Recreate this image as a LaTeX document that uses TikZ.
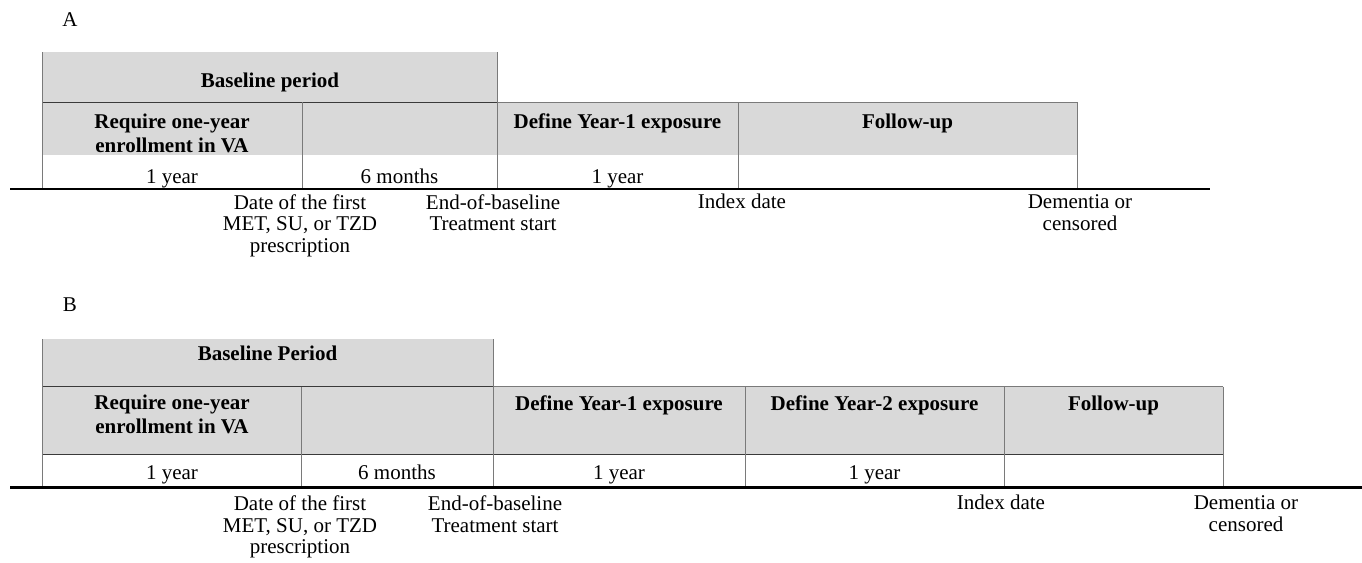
\documentclass[tikz,border=0pt]{standalone}
\usepackage{fontspec}
\setmainfont{Liberation Serif}
\definecolor{cellgray}{HTML}{D9D9D9}
\definecolor{bordergray}{HTML}{7A7A7A}
\definecolor{rowline}{HTML}{3A3A3A}
\tikzset{
  lab/.style={font=\fontsize{21}{21.5}\selectfont, inner sep=0pt, anchor=base, align=center},
  labm/.style={font=\fontsize{21}{21.5}\selectfont, inner sep=0pt, anchor=north, align=center},
  hdr/.style={font=\fontsize{21}{24}\selectfont\bfseries, inner sep=0pt, anchor=base, align=center},
  hdrm/.style={font=\fontsize{21}{24}\selectfont\bfseries, inner sep=0pt, anchor=north, align=center},
  cellfill/.style={fill=cellgray},
  vline/.style={draw=bordergray, line width=1pt},
  hline/.style={draw=rowline, line width=1pt},
  axisline/.style={draw=black, line width=2.4pt}
}
\begin{document}
\begin{tikzpicture}[x=1pt,y=-1pt]
\useasboundingbox (0,0) rectangle (1362,562);

% ---------------- Panel A ----------------
\node[lab] (lblA) at (70,26) {A};
\fill[cellfill] (42,52) rectangle (497,155);
\fill[cellfill] (497,102) rectangle (1077,155);
\draw[hline] (42,102) -- (497,102);
\draw[vline] (497,102) -- (1077,102);
\draw[vline] (42,52) -- (42,189);
\draw[vline] (302,102) -- (302,189);
\draw[vline] (497,52) -- (497,189);
\draw[vline] (738,102) -- (738,189);
\draw[vline] (1077,102) -- (1077,189);
\coordinate (axAs) at (10,189);
\coordinate (axAe) at (1210,189);
\draw[axisline] (axAs) -- (axAe);

\node[hdr] (baseA) at (270,87) {Baseline period};
\node[hdrm] (reqA) at (172,114) {Require one-year\\enrollment in VA};
\node[hdr] (y1A) at (617.5,128) {Define Year-1 exposure};
\node[hdr] (fuA) at (907.5,128) {Follow-up};
\node[lab] (d1A) at (172,183) {1 year};
\node[lab] (d2A) at (399.5,183) {6 months};
\node[lab] (d3A) at (617.5,183) {1 year};
\node[labm] (firstA) at (300,194.4) {Date of the first\\MET, SU, or TZD\\prescription};
\node[labm] (endA) at (493,194.4) {End-of-baseline\\Treatment start};
\node[lab] (idxA) at (742,208.7) {Index date};
\node[labm] (demA) at (1080,194.8) {Dementia or\\censored};

% ---------------- Panel B ----------------
\node[lab] (lblB) at (70,311) {B};
\fill[cellfill] (42,339) rectangle (493,454);
\fill[cellfill] (493,386.5) rectangle (1223,454);
\draw[hline] (42,386.5) -- (493,386.5);
\draw[vline] (493,386.5) -- (1223,386.5);
\draw[hline] (42,454) -- (1223,454);
\draw[vline] (42,339) -- (42,487);
\draw[vline] (301.7,386.5) -- (301.7,487);
\draw[vline] (493,339) -- (493,487);
\draw[vline] (745,386.5) -- (745,487);
\draw[vline] (1004,386.5) -- (1004,487);
\draw[vline] (1223,386.5) -- (1223,487);
\coordinate (axBs) at (10,487.5);
\coordinate (axBe) at (1362,487.5);
\draw[axisline] (axBs) -- (axBe);

\node[hdr] (baseB) at (267.5,360) {Baseline Period};
\node[hdrm] (reqB) at (172,394.5) {Require one-year\\enrollment in VA};
\node[hdr] (y1B) at (619,410) {Define Year-1 exposure};
\node[hdr] (y2B) at (874.5,410) {Define Year-2 exposure};
\node[hdr] (fuB) at (1113.5,410) {Follow-up};
\node[lab] (d1B) at (172,479) {1 year};
\node[lab] (d2B) at (397,479) {6 months};
\node[lab] (d3B) at (619,479) {1 year};
\node[lab] (d4B) at (874.5,479) {1 year};
\node[labm] (firstB) at (300,495.7) {Date of the first\\MET, SU, or TZD\\prescription};
\node[labm] (endB) at (495,495.7) {End-of-baseline\\Treatment start};
\node[lab] (idxB) at (1001,509.5) {Index date};
\node[labm] (demB) at (1246,495.6) {Dementia or\\censored};
\end{tikzpicture}
\end{document}
